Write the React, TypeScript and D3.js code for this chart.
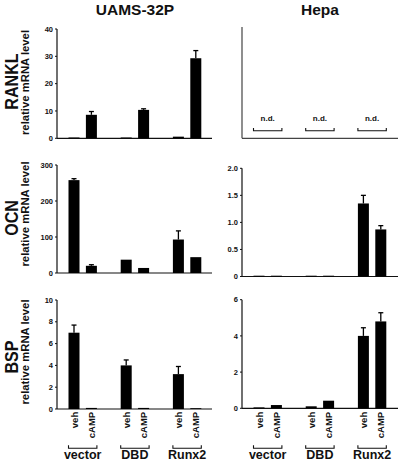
import React from "react";
import * as d3 from "d3";

// ---- data ----
const groups = ["vector", "DBD", "Runx2"];
const treatments = ["veh", "cAMP"];
const columnTitles = ["UAMS-32P", "Hepa"];
const rowGenes = ["RANKL", "OCN", "BSP"];
const yLabel = "relative mRNA level";

const rankl32P = [0.15, 8.6, 0.15, 10.4, 0.6, 29.3];
const rankl32PErr = [0, 1.2, 0, 0.4, 0, 2.8];
const ocn32P = [258, 20, 37, 14, 93, 44];
const ocn32PErr = [4, 3, 1.5, 1, 24, 2.5];
const ocnHepa = [0.006, 0.012, 0.01, 0.012, 1.35, 0.87];
const ocnHepaErr = [0, 0, 0, 0, 0.15, 0.07];
const bsp32P = [7.0, 0.1, 4.0, 0.1, 3.2, 0.06];
const bsp32PErr = [0.7, 0.03, 0.5, 0.03, 0.7, 0.02];
const bspHepa = [0.05, 0.18, 0.11, 0.42, 4.0, 4.8];
const bspHepaErr = [0.01, 0.05, 0.04, 0.02, 0.45, 0.48];

const rankl32PTicks = [0, 10, 20, 30, 40];
const ocn32PTicks = [0, 100, 200, 300];
const ocnHepaTicks = [0, 0.5, 1.0, 1.5, 2.0];
const bsp32PTicks = [0, 2, 4, 6, 8, 10];
const bspHepaTicks = [0, 2, 4, 6];
const notDetected = "n.d.";

const FONT = "'Liberation Sans', Arial, Helvetica, sans-serif";

type Panel = {
  x0: number;
  x1: number;
  yBase: number;
  yTop: number;
  max: number;
  ticks: number[];
  tickFmt: (v: number) => string;
  values?: number[];
  errs?: number[];
  nd?: boolean;
  axisColor?: string;
};

const slots = ["vector-veh", "vector-cAMP", "g1", "DBD-veh", "DBD-cAMP", "g2", "Runx2-veh", "Runx2-cAMP"];
const barKeys = groups.flatMap((g) => treatments.map((t) => `${g}-${t}`));
const BAR_W = 11;

function xScaleFor(x0: number) {
  return d3.scalePoint<string>().domain(slots).range([x0 + 17, x0 + 17 + 7 * 17.4]);
}

const fmtInt = (v: number) => String(v);
const fmtOne = (v: number) => (v === 0 ? "0" : d3.format(".1f")(v));

const panels: Panel[] = [
  { x0: 57, x1: 212, yBase: 138.3, yTop: 29, max: 40, ticks: rankl32PTicks, tickFmt: fmtInt, values: rankl32P, errs: rankl32PErr },
  { x0: 242, x1: 398, yBase: 138.3, yTop: 27, max: 1, ticks: [], tickFmt: fmtInt, nd: true, axisColor: "#444" },
  { x0: 57, x1: 212, yBase: 273, yTop: 165, max: 300, ticks: ocn32PTicks, tickFmt: fmtInt, values: ocn32P, errs: ocn32PErr },
  { x0: 242, x1: 398, yBase: 276.5, yTop: 168.3, max: 2, ticks: ocnHepaTicks, tickFmt: fmtOne, values: ocnHepa, errs: ocnHepaErr },
  { x0: 57, x1: 212, yBase: 409, yTop: 300, max: 10, ticks: bsp32PTicks, tickFmt: fmtInt, values: bsp32P, errs: bsp32PErr },
  { x0: 242, x1: 398, yBase: 408.3, yTop: 299.7, max: 6, ticks: bspHepaTicks, tickFmt: fmtInt, values: bspHepa, errs: bspHepaErr },
];

function PanelView({ p, showX }: { p: Panel; showX: boolean }) {
  const y = d3.scaleLinear().domain([0, p.max]).range([p.yBase, p.yTop]);
  const x = xScaleFor(p.x0);
  const color = p.axisColor || "#111";
  return (
    <g>
      <line x1={p.x0} x2={p.x0} y1={p.yTop} y2={p.yBase} stroke={color} strokeWidth={1.2} />
      <line x1={p.x0} x2={p.x1} y1={p.yBase} y2={p.yBase} stroke={color} strokeWidth={1.2} />
      {p.ticks.map((t) => (
        <g key={t}>
          <line x1={p.x0 - 2} x2={p.x0} y1={y(t)} y2={y(t)} stroke={color} strokeWidth={1} />
          <text x={p.x0 - 4} y={y(t)} dy="0.35em" textAnchor="end" fontSize={7.5} fontWeight="bold" fontFamily={FONT} fill="#111">
            {p.tickFmt(t)}
          </text>
        </g>
      ))}
      {p.values &&
        barKeys.map((k, i) => {
          const cx = x(k)!;
          const v = p.values![i];
          const e = p.errs ? p.errs[i] : 0;
          const top = y(v);
          const h = Math.max(p.yBase - top, 0.8);
          return (
            <g key={k}>
              <rect x={cx - BAR_W / 2} y={p.yBase - h} width={BAR_W} height={h} fill="#000" />
              {e > 0 && y(v) - y(v + e) > 1 && (
                <g stroke="#000" strokeWidth={1.3}>
                  <line x1={cx} x2={cx} y1={top} y2={y(v + e)} />
                  <line x1={cx - 2.5} x2={cx + 2.5} y1={y(v + e)} y2={y(v + e)} />
                </g>
              )}
            </g>
          );
        })}
      {p.nd &&
        groups.map((g) => {
          const a = x(`${g}-veh`)! - BAR_W / 2;
          const b = x(`${g}-cAMP`)! + BAR_W / 2;
          return (
            <g key={g}>
              <path d={`M${a},128 V130.7 H${b} V128`} fill="none" stroke="#111" strokeWidth={1.1} />
              <text x={(a + b) / 2} y={120.7} textAnchor="middle" fontSize={8} fontWeight="bold" fontFamily={FONT} fill="#111">
                {notDetected}
              </text>
            </g>
          );
        })}
      {showX &&
        groups.map((g) => {
          const cv = x(`${g}-veh`)!;
          const cc = x(`${g}-cAMP`)!;
          const a = cv - BAR_W / 2;
          const b = cc + BAR_W / 2;
          return (
            <g key={g}>
              {treatments.map((t) => {
                const cx = x(`${g}-${t}`)!;
                return (
                  <text
                    key={t}
                    transform={`translate(${cx + 3.5},${411.8}) rotate(-90)`}
                    textAnchor="end"
                    fontSize={9.5}
                    fontWeight="bold"
                    fontFamily={FONT}
                    fill="#111"
                  >
                    {t}
                  </text>
                );
              })}
              <path d={`M${a},445.3 V448.3 H${b} V445.3`} fill="none" stroke="#111" strokeWidth={1.1} />
              <text x={(a + b) / 2} y={458.5} textAnchor="middle" fontSize={12.5} fontWeight="bold" fontFamily={FONT} fill="#111">
                {g}
              </text>
            </g>
          );
        })}
    </g>
  );
}

const rowGeneY = [81.5, 218, 357];
const rowLabelY = [82.5, 214, 352];
const titleX = [135, 320];

export default function App() {
  return (
    <div style={{ position: "fixed", left: 0, top: 0 }}>
      <svg width={400} height={462} viewBox="0 0 400 462" style={{ display: "block", background: "#fff" }}>
        <rect width={400} height={462} fill="#fff" />
        {columnTitles.map((t, i) => (
          <text key={t} x={titleX[i]} y={15} textAnchor="middle" fontSize={15.5} fontWeight="bold" fontFamily={FONT} fill="#111">
            {t}
          </text>
        ))}
        {rowGenes.map((g, i) => (
          <g key={g}>
            <text
              transform={`translate(17.5,${rowGeneY[i]}) rotate(-90) scale(0.87,1)`}
              textAnchor="middle"
              fontSize={18.5}
              fontWeight="bold"
              fontFamily={FONT}
              fill="#111"
            >
              {g}
            </text>
            <text
              transform={`translate(28.5,${rowLabelY[i]}) rotate(-90)`}
              textAnchor="middle"
              fontSize={11.3}
              fontWeight="bold"
              fontFamily={FONT}
              fill="#111"
            >
              {yLabel}
            </text>
          </g>
        ))}
        {panels.map((p, i) => (
          <PanelView key={i} p={p} showX={i >= 4} />
        ))}
      </svg>
    </div>
  );
}
